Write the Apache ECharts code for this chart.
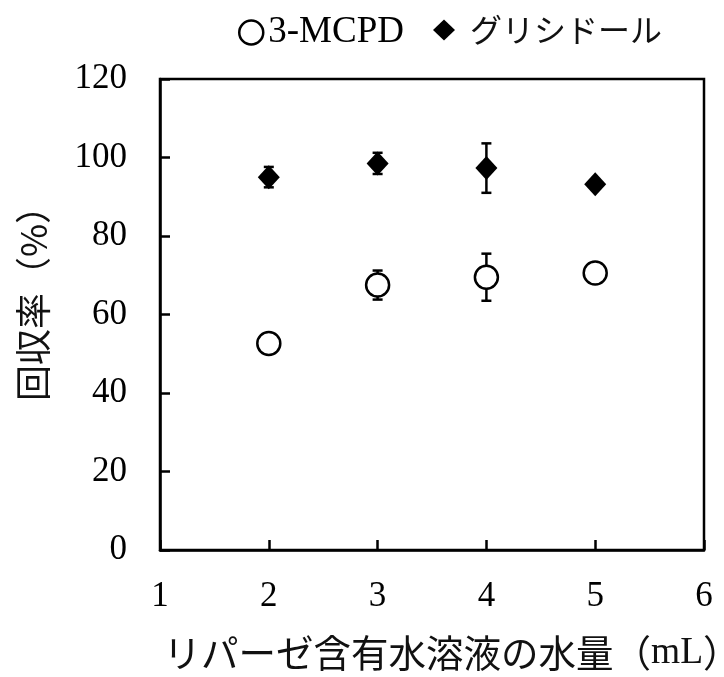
<!DOCTYPE html>
<html><head><meta charset="utf-8">
<script src="https://cdn.jsdelivr.net/npm/echarts@6/dist/echarts.min.js"></script>
<style>html,body{margin:0;padding:0;background:#fff}#c{width:724px;height:677px}</style>
</head><body><div id="c"></div>
<script>
const xValues = [2, 3, 4, 5];
const mcpdMean = [52.6, 67.5, 69.5, 70.6];
const mcpdErr = [1.0, 3.7, 6.0, 1.0];
const glyMean = [95.0, 98.5, 97.3, 93.2];
const glyErr = [2.6, 2.7, 6.3, 1.0];
const yTicks = [0, 20, 40, 60, 80, 100, 120];
const xTicks = [1, 2, 3, 4, 5, 6];
const nameMcpd = '3-MCPD';
const nameGly = 'グリシドール';
const xTitle = '{j|リパーゼ含有水溶液の水量（}{s|mL}{j|）}';
const yTitle = '回収率（%）';

const serif = "'Liberation Serif', 'DejaVu Serif', serif";
const jp = "'Noto Sans CJK JP', sans-serif";

function errData(mean, err) {
  return xValues.map((x, i) => [x, mean[i] - err[i], mean[i] + err[i]]);
}
function errRender(params, api) {
  const x = api.value(0);
  const lo = api.coord([x, api.value(1)]);
  const hi = api.coord([x, api.value(2)]);
  const cw = 5;
  const st = { stroke: '#000', lineWidth: 2.5 };
  return {
    type: 'group',
    children: [
      { type: 'line', shape: { x1: lo[0], y1: lo[1], x2: hi[0], y2: hi[1] }, style: st },
      { type: 'line', shape: { x1: lo[0] - cw, y1: lo[1], x2: lo[0] + cw, y2: lo[1] }, style: st },
      { type: 'line', shape: { x1: hi[0] - cw, y1: hi[1], x2: hi[0] + cw, y2: hi[1] }, style: st }
    ]
  };
}

const chart = echarts.init(document.getElementById('c'), null, { renderer: 'canvas' });
chart.setOption({
  animation: false,
  backgroundColor: '#fff',
  grid: { left: 160, right: 20, top: 79, bottom: 127, outerBoundsMode: 'none', containLabel: false, show: true, borderColor: '#000', borderWidth: 2.5, backgroundColor: 'transparent' },
  legend: [
    {
      top: 9, left: 233, itemWidth: 24, itemHeight: 24,
      data: [{ name: nameMcpd, icon: 'circle', itemStyle: { color: '#fff', borderColor: '#000', borderWidth: 2.5 } }],
      textStyle: { fontFamily: serif, fontSize: 37, color: '#000' }
    },
    {
      top: 9, left: 428, itemWidth: 22, itemHeight: 21,
      data: [{ name: nameGly, icon: 'diamond', itemStyle: { color: '#000' } }],
      textStyle: { fontFamily: jp, fontSize: 32, color: '#111', padding: [0, 0, 0, 10] }
    }
  ],
  xAxis: {
    type: 'value', min: xTicks[0], max: xTicks[xTicks.length - 1], interval: 1,
    splitLine: { show: false },
    axisLine: { lineStyle: { color: '#000', width: 2.5 } },
    axisTick: { inside: true, length: 10, lineStyle: { color: '#000', width: 2.5 } },
    axisLabel: { margin: 29, fontFamily: serif, fontSize: 35, color: '#000' },
    name: xTitle, nameLocation: 'middle', nameGap: 84,
    nameTextStyle: {
      color: '#111', padding: [0, 0, 0, 40],
      rich: {
        j: { fontFamily: jp, fontSize: 37.5, color: '#111' },
        s: { fontFamily: serif, fontSize: 37.5, color: '#111' }
      }
    }
  },
  yAxis: {
    type: 'value', min: yTicks[0], max: yTicks[yTicks.length - 1], interval: 20,
    splitLine: { show: false },
    axisLine: { lineStyle: { color: '#000', width: 2.5 } },
    axisTick: { inside: true, length: 10, lineStyle: { color: '#000', width: 2.5 } },
    axisLabel: { margin: 33, fontFamily: serif, fontSize: 35, color: '#000' },
    name: yTitle, nameLocation: 'middle', nameGap: 109,
    nameTextStyle: { fontFamily: jp, fontSize: 36, color: '#111', padding: [0, 0, 0, 40] }
  },
  series: [
    { type: 'custom', name: 'errM', renderItem: errRender, data: errData(mcpdMean, mcpdErr), z: 2, silent: true },
    { type: 'custom', name: 'errG', renderItem: errRender, data: errData(glyMean, glyErr), z: 2, silent: true },
    {
      type: 'scatter', name: nameMcpd, z: 5,
      symbol: 'circle', symbolSize: 23,
      itemStyle: { color: '#fff', borderColor: '#000', borderWidth: 2.5, opacity: 1 },
      data: xValues.map((x, i) => [x, mcpdMean[i]])
    },
    {
      type: 'scatter', name: nameGly, z: 5,
      symbol: 'diamond', symbolSize: [22, 24],
      itemStyle: { color: '#000', opacity: 1 },
      data: xValues.map((x, i) => [x, glyMean[i]])
    }
  ]
});
</script></body></html>
